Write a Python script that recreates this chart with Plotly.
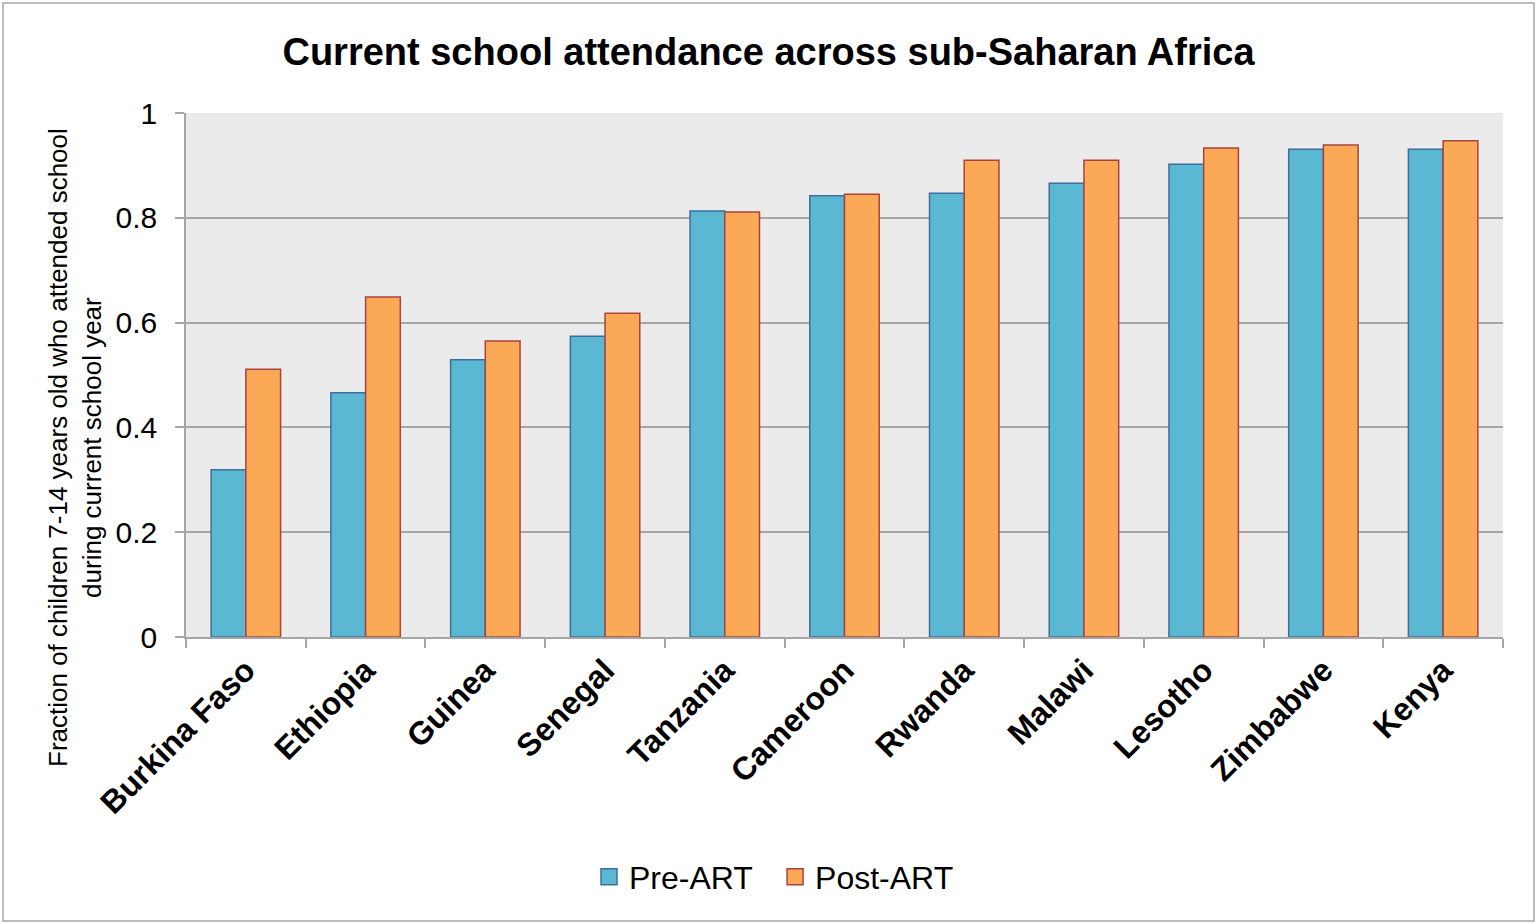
import plotly.graph_objects as go

countries = ["Burkina Faso", "Ethiopia", "Guinea", "Senegal", "Tanzania", "Cameroon",
             "Rwanda", "Malawi", "Lesotho", "Zimbabwe", "Kenya"]
pre_art = [0.319, 0.466, 0.529, 0.574, 0.813, 0.842, 0.847, 0.866, 0.902, 0.931, 0.931]
post_art = [0.511, 0.649, 0.565, 0.618, 0.811, 0.845, 0.910, 0.910, 0.933, 0.939, 0.947]
y_ticks = [0, 0.2, 0.4, 0.6, 0.8, 1]
y_tick_labels = ["0", "0.2", "0.4", "0.6", "0.8", "1"]

W, H = 1537, 924
L, R, T, B = 186, 34, 113, 287

PRE_FILL, PRE_LINE = "#5BB8D2", "#3D6E9E"
POST_FILL, POST_LINE = "#FBA857", "#A8443F"
FONT = "Liberation Sans, Arial, sans-serif"

fig = go.Figure()
fig.add_trace(go.Bar(x=countries, y=pre_art, name="Pre-ART", showlegend=False,
                     marker=dict(color=PRE_FILL, line=dict(color=PRE_LINE, width=1.5))))
fig.add_trace(go.Bar(x=countries, y=post_art, name="Post-ART", showlegend=False,
                     marker=dict(color=POST_FILL, line=dict(color=POST_LINE, width=1.5))))
# legend entries with larger square swatches
fig.add_trace(go.Scatter(x=[None], y=[None], mode="markers", name="Pre-ART  ",
                         marker=dict(symbol="square", size=16, color=PRE_FILL,
                                     line=dict(color=PRE_LINE, width=1.5))))
fig.add_trace(go.Scatter(x=[None], y=[None], mode="markers", name="Post-ART",
                         marker=dict(symbol="square", size=16, color=POST_FILL,
                                     line=dict(color=POST_LINE, width=1.5))))

pw, ph = W - L - R, H - T - B

fig.update_layout(
    width=W, height=H,
    margin=dict(l=L, r=R, t=T, b=B),
    paper_bgcolor="white",
    plot_bgcolor="#EBEBEB",
    barmode="group",
    bargap=0.42,
    bargroupgap=0,
    font=dict(family=FONT, color="black"),
    title=dict(text="<b>Current school attendance across sub-Saharan Africa</b>",
               x=0.5, xanchor="center", y=1 - 52 / H, yanchor="middle",
               font=dict(size=38, color="black")),
    legend=dict(orientation="h", x=(774 - L) / pw, xanchor="center", xref="paper",
                y=-(877 - 637) / ph, yanchor="middle",
                font=dict(size=32, color="black"), itemwidth=30,
                traceorder="normal"),
    showlegend=True,
)

fig.update_xaxes(
    type="category",
    tickangle=-45,
    tickfont=dict(size=32, color="black", family=FONT),
    tickprefix="<b>", ticksuffix="</b>",
    ticks="outside", ticklen=9, tickcolor="#A6A6A6", tickwidth=1.5,
    tickson="boundaries",
    showline=True, linecolor="#A6A6A6", linewidth=1.5,
    showgrid=False,
)
fig.update_yaxes(
    range=[0, 1],
    tickvals=y_ticks, ticktext=y_tick_labels,
    tickfont=dict(size=30, color="black"),
    ticks="outside", ticklen=9, tickcolor="#A6A6A6", tickwidth=1.5,
    ticklabelstandoff=12,
    showline=True, linecolor="#A6A6A6", linewidth=1.5,
    showgrid=True, gridcolor="#A6A6A6", gridwidth=1.5,
    zeroline=False,
)

fig.add_annotation(
    text="Fraction of children 7-14 years old who attended school<br>during current school year",
    textangle=-90, showarrow=False,
    xref="paper", yref="paper",
    x=-(L - 75) / pw, y=(637 - 448) / ph,
    xanchor="center", yanchor="middle",
    font=dict(size=26, color="black"),
)

# outer chart border
fig.add_shape(type="rect", xref="paper", yref="paper",
              x0=-(L - 3) / pw, x1=1 + (R - 3) / pw,
              y0=-(B - 3) / ph, y1=1 + (T - 3) / ph,
              line=dict(color="#A6A6A6", width=1.5), layer="below")

fig.write_html("out.html")
